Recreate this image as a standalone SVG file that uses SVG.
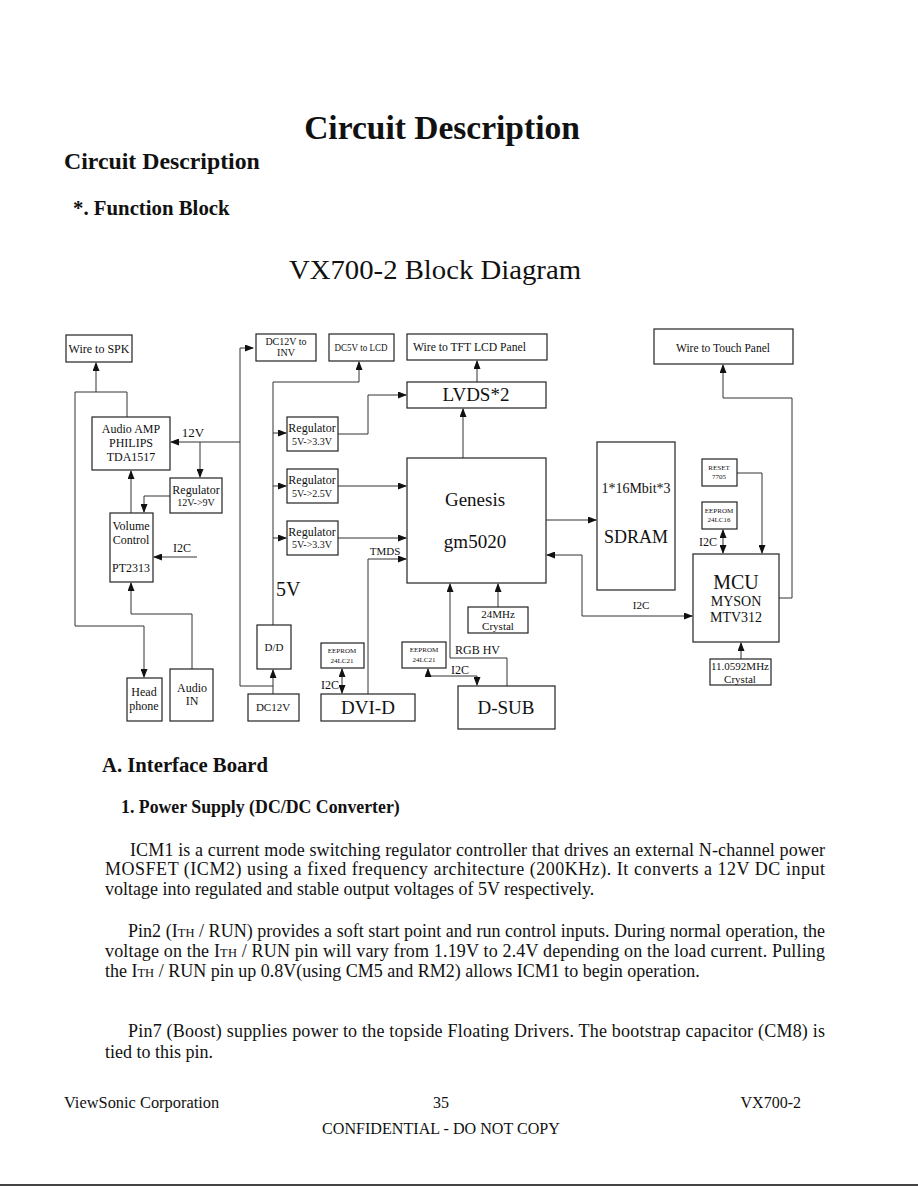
<svg xmlns="http://www.w3.org/2000/svg" width="918" height="1188" viewBox="0 0 918 1188">
<defs>
<marker id="ah" markerUnits="userSpaceOnUse" markerWidth="9" markerHeight="7" refX="8" refY="3.5" orient="auto-start-reverse">
<path d="M0,0 L9,3.5 L0,7 Z" fill="#111"/>
</marker>
<style>
.b{fill:none;stroke:#222;stroke-width:1.2}
.c{fill:none;stroke:#333;stroke-width:1}
.t{font-family:"Liberation Serif",serif;fill:#111;text-anchor:middle}
.p{font-family:"Liberation Serif",serif;fill:#111;font-size:18px}
</style>
</defs>
<rect x="0" y="0" width="918" height="1188" fill="#fff"/>

<g id="headings">
<text x="442" y="139" font-family="Liberation Serif,serif" font-weight="bold" font-size="33.5" text-anchor="middle" fill="#111">Circuit Description</text>
<text x="64" y="169" font-family="Liberation Serif,serif" font-weight="bold" font-size="23.8" fill="#111">Circuit Description</text>
<text x="73" y="215" font-family="Liberation Serif,serif" font-weight="bold" font-size="20.8" fill="#111">*. Function Block</text>
<text x="289" y="279" font-family="Liberation Serif,serif" font-size="28" fill="#111" textLength="292" lengthAdjust="spacingAndGlyphs">VX700-2 Block Diagram</text>
</g>

<g id="connectors">
<path class="c" d="M127,417 V392 H75 V626 H144 V677" marker-end="url(#ah)"/>
<path class="c" d="M96,392 V363" marker-end="url(#ah)"/>
<path class="c" d="M240,442 H171" marker-end="url(#ah)"/>
<path class="c" d="M200,442 V477" marker-end="url(#ah)"/>
<path class="c" d="M170,496 H144 V512" marker-end="url(#ah)"/>
<path class="c" d="M131,513 V471" marker-end="url(#ah)"/>
<path class="c" d="M197,557 H154" marker-end="url(#ah)"/>
<path class="c" d="M192,669 V614 H131 V583" marker-end="url(#ah)"/>
<path class="c" d="M273,686 H240 V348 H253" marker-end="url(#ah)"/>
<path class="c" d="M273,694 V670" marker-end="url(#ah)"/>
<path class="c" d="M273,625 V382 H359 V362" marker-end="url(#ah)"/>
<path class="c" d="M273,433 H286" marker-end="url(#ah)"/>
<path class="c" d="M273,486 H286" marker-end="url(#ah)"/>
<path class="c" d="M273,538 H286" marker-end="url(#ah)"/>
<path class="c" d="M338,434 H368 V395 H406" marker-end="url(#ah)"/>
<path class="c" d="M338,486 H406" marker-end="url(#ah)"/>
<path class="c" d="M338,538 H406" marker-end="url(#ah)"/>
<path class="c" d="M368,694 V559 H406" marker-end="url(#ah)"/>
<path class="c" d="M477,382 V361" marker-end="url(#ah)"/>
<path class="c" d="M463,458 V409" marker-end="url(#ah)"/>
<path class="c" d="M546,520 H596" marker-end="url(#ah)"/>
<path class="c" d="M692,616 H582 V555 H547" marker-start="url(#ah)" marker-end="url(#ah)"/>
<path class="c" d="M507,686 V658 H450 V584" marker-end="url(#ah)"/>
<path class="c" d="M498,607 V584" marker-end="url(#ah)"/>
<path class="c" d="M342,669 V693" marker-start="url(#ah)" marker-end="url(#ah)"/>
<path class="c" d="M428,669 V676 H477 V685" marker-start="url(#ah)" marker-end="url(#ah)"/>
<path class="c" d="M779,598 H792 V398 H723 V365" marker-end="url(#ah)"/>
<path class="c" d="M737,473 H762 V553" marker-end="url(#ah)"/>
<path class="c" d="M723,530 V553" marker-start="url(#ah)" marker-end="url(#ah)"/>
<path class="c" d="M741,659 V643" marker-end="url(#ah)"/>
</g>

<g id="labels">
<text class="t" x="193" y="437" font-size="13">12V</text>
<text class="t" x="182" y="552" font-size="12">I2C</text>
<text x="276" y="596" font-family="Liberation Serif,serif" font-size="20" fill="#111">5V</text>
<text class="t" x="385" y="555" font-size="11">TMDS</text>
<text x="455" y="654" font-family="Liberation Serif,serif" font-size="12" fill="#111">RGB HV</text>
<text class="t" x="460" y="674" font-size="12">I2C</text>
<text class="t" x="330" y="689" font-size="12">I2C</text>
<text class="t" x="641" y="609" font-size="11">I2C</text>
<text class="t" x="708" y="546" font-size="12">I2C</text>
</g>

<g id="wire-spk"><rect class="b" x="66" y="335" width="66" height="27"/><text class="t" x="99" y="353" font-size="12">Wire to SPK</text></g>
<g id="audio-amp"><rect class="b" x="92" y="417" width="78" height="53"/>
<text class="t" x="131" y="433" font-size="12">Audio AMP</text><text class="t" x="131" y="447" font-size="12">PHILIPS</text><text class="t" x="131" y="461" font-size="12">TDA1517</text></g>
<g id="reg-12-9"><rect class="b" x="170" y="478" width="52" height="35"/>
<text class="t" x="196" y="494" font-size="12">Regulator</text><text class="t" x="196" y="506" font-size="10">12V-&gt;9V</text></g>
<g id="volume"><rect class="b" x="110" y="513" width="43" height="69"/>
<text class="t" x="131" y="530" font-size="12">Volume</text><text class="t" x="131" y="544" font-size="12">Control</text><text class="t" x="131" y="572" font-size="12">PT2313</text></g>
<g id="headphone"><rect class="b" x="127" y="678" width="35" height="43"/>
<text class="t" x="144" y="696" font-size="12">Head</text><text class="t" x="144" y="710" font-size="12">phone</text></g>
<g id="audio-in"><rect class="b" x="170" y="669" width="43" height="52"/>
<text class="t" x="192" y="692" font-size="12">Audio</text><text class="t" x="192" y="705" font-size="12">IN</text></g>

<g id="dc12-inv"><rect class="b" x="256" y="334" width="60" height="27"/>
<text class="t" x="286" y="345" font-size="10">DC12V to</text><text class="t" x="286" y="356" font-size="10">INV</text></g>
<g id="dc5-lcd"><rect class="b" x="329" y="334" width="65" height="27"/>
<text class="t" x="361" y="351" font-size="10" textLength="53" lengthAdjust="spacingAndGlyphs">DC5V to LCD</text></g>
<g id="wire-tft"><rect class="b" x="407" y="334" width="140" height="26"/>
<text x="413" y="351" font-family="Liberation Serif,serif" font-size="13" fill="#111" textLength="113" lengthAdjust="spacingAndGlyphs">Wire to TFT LCD Panel</text></g>
<g id="lvds"><rect class="b" x="407" y="382" width="139" height="26"/>
<text class="t" x="476" y="401" font-size="19">LVDS*2</text></g>
<g id="reg1"><rect class="b" x="287" y="417" width="51" height="34"/>
<text class="t" x="312" y="432" font-size="12">Regulator</text><text class="t" x="312" y="445" font-size="10">5V-&gt;3.3V</text></g>
<g id="reg2"><rect class="b" x="287" y="469" width="51" height="34"/>
<text class="t" x="312" y="484" font-size="12">Regulator</text><text class="t" x="312" y="497" font-size="10">5V-&gt;2.5V</text></g>
<g id="reg3"><rect class="b" x="287" y="521" width="51" height="34"/>
<text class="t" x="312" y="536" font-size="12">Regulator</text><text class="t" x="312" y="548" font-size="10">5V-&gt;3.3V</text></g>
<g id="genesis"><rect class="b" x="407" y="458" width="139" height="125"/>
<text class="t" x="475" y="506" font-size="19">Genesis</text><text class="t" x="475" y="548" font-size="19">gm5020</text></g>
<g id="sdram"><rect class="b" x="597" y="442" width="78" height="148"/>
<text class="t" x="636" y="493" font-size="14">1*16Mbit*3</text><text class="t" x="636" y="543" font-size="18">SDRAM</text></g>
<g id="dd"><rect class="b" x="257" y="625" width="34" height="44"/><text class="t" x="274" y="651" font-size="11">D/D</text></g>
<g id="dc12v"><rect class="b" x="248" y="694" width="51" height="27"/><text class="t" x="273" y="711" font-size="11">DC12V</text></g>
<g id="eeprom-dvi"><rect class="b" x="321" y="643" width="43" height="25"/>
<text class="t" x="342" y="653" font-size="7">EEPROM</text><text class="t" x="342" y="663" font-size="7">24LC21</text></g>
<g id="dvi-d"><rect class="b" x="321" y="694" width="94" height="27"/><text class="t" x="368" y="714" font-size="19">DVI-D</text></g>
<g id="eeprom-dsub"><rect class="b" x="402" y="642" width="44" height="26"/>
<text class="t" x="424" y="652" font-size="7">EEPROM</text><text class="t" x="424" y="662" font-size="7">24LC21</text></g>
<g id="crystal24"><rect class="b" x="468" y="607" width="60" height="26"/>
<text class="t" x="498" y="618" font-size="11">24MHz</text><text class="t" x="498" y="630" font-size="11">Crystal</text></g>
<g id="dsub"><rect class="b" x="458" y="686" width="97" height="43"/><text class="t" x="506" y="714" font-size="19">D-SUB</text></g>
<g id="wire-touch"><rect class="b" x="654" y="329" width="139" height="35"/>
<text class="t" x="723" y="352" font-size="13" textLength="94" lengthAdjust="spacingAndGlyphs">Wire to Touch Panel</text></g>
<g id="reset"><rect class="b" x="702" y="459" width="35" height="27"/>
<text class="t" x="719" y="470" font-size="7">RESET</text><text class="t" x="719" y="479" font-size="7">7705</text></g>
<g id="eeprom-mcu"><rect class="b" x="702" y="502" width="35" height="27"/>
<text class="t" x="719" y="513" font-size="7">EEPROM</text><text class="t" x="719" y="522" font-size="7">24LC16</text></g>
<g id="mcu"><rect class="b" x="693" y="554" width="86" height="88"/>
<text class="t" x="736" y="589" font-size="20">MCU</text><text class="t" x="736" y="606" font-size="14">MYSON</text><text class="t" x="736" y="622" font-size="14">MTV312</text></g>
<g id="crystal11"><rect class="b" x="710" y="659" width="61" height="26"/>
<text class="t" x="740" y="670" font-size="11">11.0592MHz</text><text class="t" x="740" y="683" font-size="11">Crystal</text></g>

<g id="body">
<text x="102" y="772" font-family="Liberation Serif,serif" font-weight="bold" font-size="20.7" fill="#111">A. Interface Board</text>
<text x="121" y="813" font-family="Liberation Serif,serif" font-weight="bold" font-size="17.8" fill="#111">1. Power Supply (DC/DC Converter)</text>
<text class="p" x="130" y="856" textLength="695" lengthAdjust="spacing">ICM1 is a current mode switching regulator controller that drives an external N-channel power</text>
<text class="p" x="105" y="875" textLength="720" lengthAdjust="spacing">MOSFET (ICM2) using a fixed frequency architecture (200KHz). It converts a 12V DC input</text>
<text class="p" x="105" y="895">voltage into regulated and stable output voltages of 5V respectively.</text>
<text class="p" x="128" y="937" textLength="697" lengthAdjust="spacing">Pin2 (I<tspan font-size="12.5">TH</tspan> / RUN) provides a soft start point and run control inputs. During normal operation, the</text>
<text class="p" x="105" y="957" textLength="720" lengthAdjust="spacing">voltage on the I<tspan font-size="12.5">TH</tspan> / RUN pin will vary from 1.19V to 2.4V depending on the load current. Pulling</text>
<text class="p" x="105" y="977">the I<tspan font-size="12.5">TH</tspan> / RUN pin up 0.8V(using CM5 and RM2) allows ICM1 to begin operation.</text>
<text class="p" x="128" y="1037" textLength="697" lengthAdjust="spacing">Pin7 (Boost) supplies power to the topside Floating Drivers. The bootstrap capacitor (CM8) is</text>
<text class="p" x="105" y="1058">tied to this pin.</text>
</g>

<g id="footer">
<text x="64" y="1108" font-family="Liberation Serif,serif" font-size="16.4" fill="#111">ViewSonic Corporation</text>
<text x="441" y="1108" font-family="Liberation Serif,serif" font-size="16" fill="#111" text-anchor="middle">35</text>
<text x="801" y="1108" font-family="Liberation Serif,serif" font-size="16" fill="#111" text-anchor="end">VX700-2</text>
<text x="441" y="1134" font-family="Liberation Serif,serif" font-size="16.1" fill="#111" text-anchor="middle">CONFIDENTIAL - DO NOT COPY</text>
<rect x="0" y="1184" width="918" height="2" fill="#444"/>
</g>
</svg>
